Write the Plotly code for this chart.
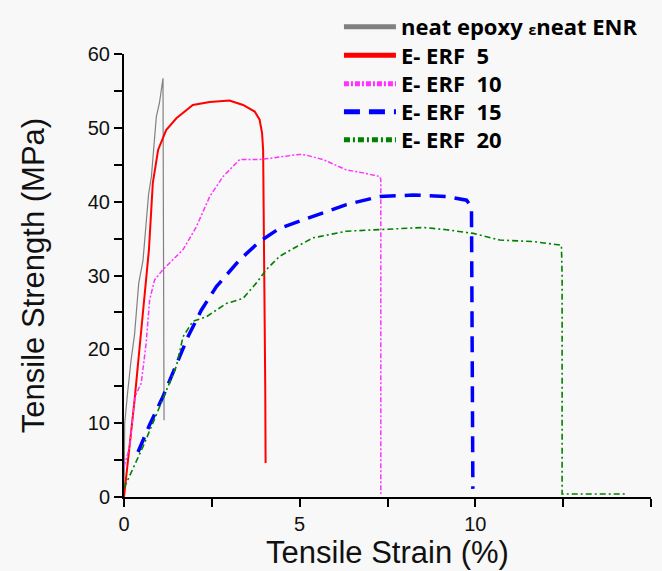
import plotly.graph_objects as go

# ---- data (strain %, strength MPa) ----
neat_x = [0, 0.02, 0.1, 0.2, 0.3, 0.42, 0.54, 0.7, 0.78, 0.92, 1.01, 1.11, 1.12, 1.13, 1.14]
neat_y = [0, 10, 14, 18.5, 22, 29, 32, 41, 43.4, 51.5, 53.4, 56.7, 40, 25, 10.4]

erf5_x = [0, 0.3, 0.71, 0.75, 0.82, 0.97, 1.2, 1.49, 1.96, 2.44, 3.0, 3.39, 3.72, 3.86, 3.93, 3.96, 3.99, 4.0, 4.02, 4.03]
erf5_y = [0, 13.1, 33.5, 37.5, 42.5, 47, 49.7, 51.3, 53.1, 53.5, 53.7, 53.1, 52.2, 51.1, 49.3, 47, 35, 25, 15, 4.6]

erf10_x = [0, 0.16, 0.3, 0.35, 0.49, 0.63, 0.73, 0.87, 1.11, 1.68, 2.06, 2.44, 2.82, 3.29, 3.86, 4.43, 5.0, 5.19, 5.67, 6.33, 6.81, 7.28, 7.31, 7.31]
erf10_y = [4.1, 6.8, 13.1, 14, 15.4, 20.8, 26.7, 29.4, 30.8, 33.5, 36.6, 40.7, 43.4, 45.7, 45.7, 46.1, 46.4, 46.3, 45.7, 44.3, 43.9, 43.4, 43.0, 0.4]

erf15_x = [0.4, 0.73, 1.11, 1.49, 1.82, 2.2, 2.63, 3.29, 3.86, 4.43, 5.38, 6.33, 7.28, 8.23, 9.18, 9.75, 9.89, 9.92, 9.93]
erf15_y = [6.1, 9.8, 13.6, 18.1, 21.7, 25.3, 28.5, 32.1, 34.6, 36.4, 38.0, 39.6, 40.7, 40.9, 40.7, 40.2, 39.3, 20, 1.1]

erf20_x = [0, 0.25, 0.54, 0.82, 1.16, 1.49, 1.68, 1.96, 2.34, 2.91, 3.39, 3.77, 4.05, 4.43, 4.91, 5.38, 6.33, 7.28, 8.52, 9.18, 9.94, 10.7, 11.65, 12.45, 12.47, 12.47, 14.32]
erf20_y = [1.2, 3.7, 6.8, 10, 14, 17.7, 21.7, 23.8, 24.4, 26.2, 26.9, 29, 30.8, 32.6, 33.9, 35.1, 36.0, 36.2, 36.5, 36.2, 35.7, 34.8, 34.6, 34.1, 30, 0.4, 0.4]

names = ["neat epoxy <span style='font-size:14px'>ε</span>neat ENR",
         "E- ERF  5", "E- ERF  10", "E- ERF  15", "E- ERF  20"]
colors = ["#808080", "#ff0000", "#ff33ff", "#0000ff", "#008000"]
widths = [1.2, 2, 1.5, 3.5, 1.6]
dashes = ["solid", "solid", "5px,2px,2px,2px", "16px,9px", "6px,3px,2px,3px"]
legend_rows_px = [27, 55.5, 84, 112, 140]   # legend row centres (px from top)

xs = [neat_x, erf5_x, erf10_x, erf15_x, erf20_x]
ys = [neat_y, erf5_y, erf10_y, erf15_y, erf20_y]

H = 571
fig = go.Figure()
legend_ids = ["legend", "legend2", "legend3", "legend4", "legend5"]
for x, y, n, c, w, d, lid in zip(xs, ys, names, colors, widths, dashes, legend_ids):
    fig.add_trace(go.Scatter(x=x, y=y, mode="lines", name=n, legend=lid,
                             line=dict(color=c, width=w, dash=d)))

legend_common = dict(x=0.512, xref="container", yref="container",
                     xanchor="left", yanchor="middle",
                     bgcolor="rgba(255,255,255,0)", borderwidth=0,
                     font=dict(family="Open Sans", size=22, color="#000", weight="bold"),
                     itemwidth=52, tracegroupgap=0, itemsizing="constant")
legend_layout = {lid: dict(legend_common, y=1 - r / H) for lid, r in zip(legend_ids, legend_rows_px)}

bg = "#f8f8f8"
fig.update_layout(
    width=662, height=H,
    margin=dict(l=124, r=11, t=54, b=74, autoexpand=False),
    paper_bgcolor=bg, plot_bgcolor=bg,
    font=dict(family="Liberation Sans, Arial", color="#111"),
    showlegend=True,
    xaxis=dict(range=[0, 15], tickvals=[0, 5, 10, 15], showgrid=False, zeroline=False,
               showline=True, linecolor="#000", linewidth=2,
               ticks="outside", ticklen=8, tickwidth=2, tickcolor="#000",
               minor=dict(tickvals=[2.5, 7.5, 12.5], ticks="outside", ticklen=8, tickwidth=2, tickcolor="#000"),
               tickfont=dict(size=20, color="#111"),
               title=dict(text="Tensile Strain (%)", font=dict(size=31, color="#111"), standoff=6)),
    yaxis=dict(range=[0, 60], tickvals=[0, 10, 20, 30, 40, 50, 60], showgrid=False, zeroline=False,
               showline=True, linecolor="#000", linewidth=2,
               ticks="outside", ticklen=8, tickwidth=2, tickcolor="#000",
               minor=dict(tickvals=[5, 15, 25, 35, 45, 55], ticks="outside", ticklen=8, tickwidth=2, tickcolor="#000"),
               tickfont=dict(size=20, color="#111"),
               title=dict(text="Tensile Strength (MPa)", font=dict(size=31, color="#111"), standoff=34)),
    **legend_layout,
)

fig.write_html("out.html", config={"displayModeBar": False},
               post_script="document.body.style.margin='0';")
